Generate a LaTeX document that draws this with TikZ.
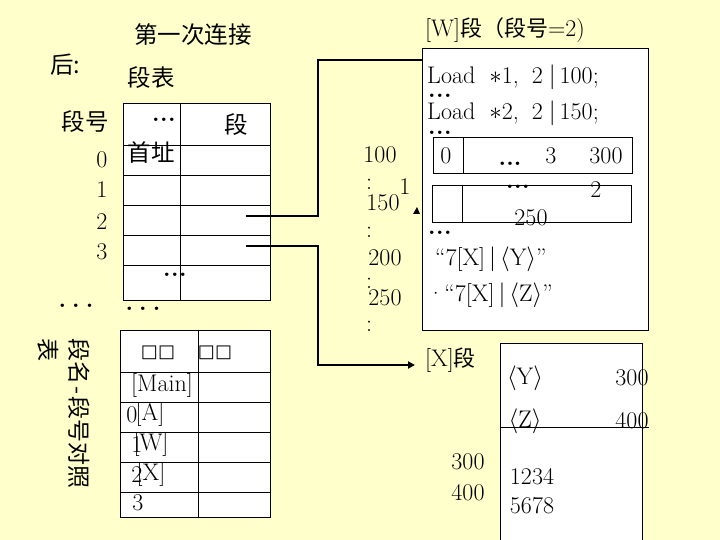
\documentclass[tikz,border=0pt]{standalone}
\usepackage{fontspec}
\newfontfamily\cjk{Noto Sans CJK SC}
\newfontfamily\djv{DejaVu Sans}
\usetikzlibrary{arrows.meta}
\definecolor{bg}{HTML}{FFFFCC}
\newcommand{\fs}{\fontsize{24}{28}\selectfont}
\newcommand{\tdots}{\textbf{.\kern0.5pt.\kern0.5pt.}}
\newcommand{\sqdots}{\textbf{.\hspace{6pt}.\hspace{6pt}.}}
\begin{document}
\begin{tikzpicture}[x=1pt,y=-1pt,
  every node/.style={inner sep=0pt, font=\fs},
  tbl/.style={draw, line width=0.9pt},
  conn/.style={line width=2pt},
  cj/.style={font=\fontsize{23.5}{28}\selectfont\cjk}]
\fill[bg] (0,0) rectangle (720,540);
\useasboundingbox (0,0) rectangle (720,540);

% ---- titles
\node[cj] (title) at (193,35) {第一次连接};
\node[cj, anchor=west] (hou) at (50,65) {后:};
\node[cj] (dbiao) at (151,78) {段表};
\node[cj] (dhao) at (85,122) {段号};

% ---- segment table
\filldraw[fill=white, tbl] (123,103) rectangle (270,300);
\draw[tbl] (180,103) -- (180,300);
\foreach \y in {145,175,205,235,265} \draw[tbl] (123,\y) -- (270,\y);
\node (hd) at (164,120) {\tdots};
\node[cj] (hseg) at (236,125) {段};
\node[cj] (hshou) at (151,153) {首址};
\node (n0) at (102,160) {0};
\node (n1) at (102,190) {1};
\node (n2) at (102,222) {2};
\node (n3) at (102,252) {3};
\node (rdots) at (175,275) {\tdots};
\node (ldots1) at (76,306) {\sqdots};
\node (ldots2) at (143,309) {\sqdots};
\coordinate (r2) at (246,216);
\coordinate (r3) at (246,246);

% ---- name/number table
\filldraw[fill=white, tbl] (120,330) rectangle (270,517);
\draw[tbl] (198,330) -- (198,517);
\foreach \y in {372,402,432,462,492} \draw[tbl] (120,\y) -- (270,\y);
\node (th1) at (158,353) {\djv\fontsize{18}{20}\selectfont □□};
\node (th2) at (215,353) {\djv\fontsize{18}{20}\selectfont □□};
\node (rmain) at (162,385) {[Main]};
\node (z0) at (132,415) {0};
\node (za) at (150,414) {[A]};
\node (z1) at (137,445) {1};
\node (zw) at (151,444) {[W]};
\node (z2) at (137,475) {2};
\node (zx) at (151,474) {[X]};
\node (z3) at (138,503) {3};
\node[rotate=-90, anchor=north west, align=left, font=\fontsize{23}{31}\selectfont\cjk] (vt) at (90,338) {段名\hspace{2pt}-\hspace{2pt}段号对照\\表};

% ---- W segment
\node[anchor=west] (wtitle) at (425,30) {[W]{\cjk\fontsize{22}{26}\selectfont 段（段号}=2)};
\node[draw, fill=white, line width=0.9pt, minimum width=226pt, minimum height=282pt, anchor=north west] (wbox) at (422,48) {};
\node[anchor=west] (l1) at (427,77) {Load\hspace{14pt}$*$1,\hspace{13pt}2\hspace{6pt}$|$\hspace{4pt}100;};
\node (d1) at (440,96) {\tdots};
\node[anchor=west] (l2) at (427,113) {Load\hspace{14pt}$*$2,\hspace{13pt}2\hspace{6pt}$|$\hspace{4pt}150;};
\node (d2) at (440,133) {\tdots};
\filldraw[fill=white, tbl] (433,137) rectangle (632,173);
\draw[tbl] (463,137) -- (463,173);
\node (b0) at (446,156) {0};
\node (bd) at (510,164) {\textbf{...}};
\node (b3) at (551,156) {3};
\node (b300) at (606,156) {300};
\filldraw[fill=white, tbl] (432,185) rectangle (631,222);
\draw[tbl] (462,185) -- (462,222);
\node (cd) at (518,187) {\tdots};
\node (c2) at (596,190) {2};
\node (c250) at (531,218) {250};
\node (d3) at (440,233) {\tdots};
\node[anchor=west] (qy) at (435,259) {“7[X]\,$|$\,$\langle$Y$\rangle$”};
\node[anchor=west] (qz) at (427,295) {·“7[X]\,$|$\,$\langle$Z$\rangle$”};

% ---- addresses
\node (a100) at (380,155) {100};
\node (col1) at (369,184) {:};
\node (one) at (405,187) {1};
\node (a150) at (383,203) {150};
\node (col2) at (369,232) {:};
\node (a200) at (385,258) {200};
\node (col3) at (369,283) {:};
\node (a250) at (385,298) {250};
\node (col4) at (369,326) {:};
\fill (413,214) -- (420,214) -- (417,207) -- cycle;

% ---- X segment
\node[anchor=west] (xtitle) at (425,360) {[X]{\cjk\fontsize{22}{26}\selectfont 段}};
\fill[white] (500,343) rectangle (642,541);
\draw[line width=0.9pt] (500,541) -- (500,343) -- (642,343) -- (642,541);
\draw[line width=0.9pt] (500,427) -- (649,427);
\node (xy) at (525,378) {$\langle$Y$\rangle$};
\node (x300) at (632,378) {300};
\node (xz) at (525,421) {$\langle$Z$\rangle$};
\node (x400) at (632,421) {400};
\node (o300) at (468,462) {300};
\node (o400) at (468,493) {400};
\node (v1) at (532,477) {1234};
\node (v2) at (532,506) {5678};

% ---- connectors
\coordinate (k1) at (318,60);
\coordinate (k2) at (318,365);
\coordinate (xend) at (415,365);
\draw[conn] (r2) -| (k1) -- (k1 -| wbox.west);
\draw[conn, -{Triangle[length=7pt,width=7pt]}] (r3) -| (k2) -- (xend);
\end{tikzpicture}
\end{document}
